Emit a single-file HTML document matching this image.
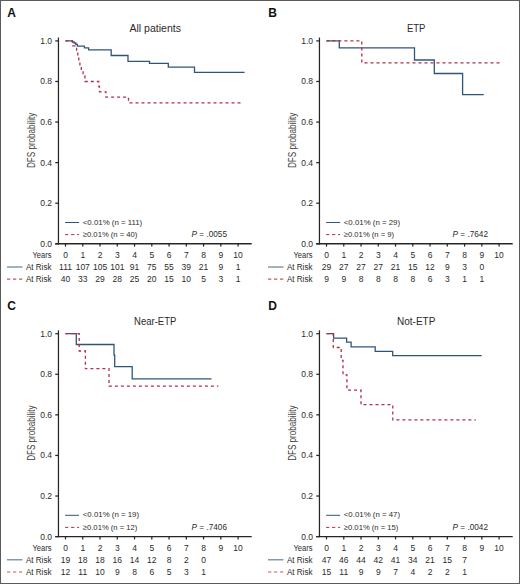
<!DOCTYPE html>
<html><head><meta charset="utf-8"><title>DFS</title>
<style>html,body{margin:0;padding:0;background:#fff;}svg{display:block;}</style>
</head><body>
<svg width="520" height="584" viewBox="0 0 520 584" font-family='"Liberation Sans", sans-serif'>
<rect x="0" y="0" width="520" height="584" fill="#fff"/>
<text x="7.20" y="16.80" font-size="12" text-anchor="start" font-weight="bold" font-style="normal" fill="#111" >A</text>
<text x="155.20" y="32.20" font-size="10.6" text-anchor="middle" font-weight="normal" font-style="normal" fill="#2b2b2b" textLength="51.6" lengthAdjust="spacingAndGlyphs">All patients</text>
<line x1="58.45" y1="37.5" x2="58.45" y2="244.425" stroke="#262626" stroke-width="1.25"/>
<line x1="55.25" y1="243.8" x2="251.7" y2="243.8" stroke="#262626" stroke-width="1.45"/>
<line x1="55.25" y1="243.80" x2="58.45" y2="243.80" stroke="#262626" stroke-width="1.25"/>
<text x="52.00" y="246.80" font-size="8.5" text-anchor="end" font-weight="normal" font-style="normal" fill="#2b2b2b" >0.0</text>
<line x1="55.25" y1="203.22" x2="58.45" y2="203.22" stroke="#262626" stroke-width="1.25"/>
<text x="52.00" y="206.22" font-size="8.5" text-anchor="end" font-weight="normal" font-style="normal" fill="#2b2b2b" >0.2</text>
<line x1="55.25" y1="162.64" x2="58.45" y2="162.64" stroke="#262626" stroke-width="1.25"/>
<text x="52.00" y="165.64" font-size="8.5" text-anchor="end" font-weight="normal" font-style="normal" fill="#2b2b2b" >0.4</text>
<line x1="55.25" y1="122.06" x2="58.45" y2="122.06" stroke="#262626" stroke-width="1.25"/>
<text x="52.00" y="125.06" font-size="8.5" text-anchor="end" font-weight="normal" font-style="normal" fill="#2b2b2b" >0.6</text>
<line x1="55.25" y1="81.48" x2="58.45" y2="81.48" stroke="#262626" stroke-width="1.25"/>
<text x="52.00" y="84.48" font-size="8.5" text-anchor="end" font-weight="normal" font-style="normal" fill="#2b2b2b" >0.8</text>
<line x1="55.25" y1="40.90" x2="58.45" y2="40.90" stroke="#262626" stroke-width="1.25"/>
<text x="52.00" y="43.90" font-size="8.5" text-anchor="end" font-weight="normal" font-style="normal" fill="#2b2b2b" >1.0</text>
<line x1="65.50" y1="243.8" x2="65.50" y2="246.60000000000002" stroke="#262626" stroke-width="1.25"/>
<text x="65.50" y="258.00" font-size="8.5" text-anchor="middle" font-weight="normal" font-style="normal" fill="#2b2b2b" >0</text>
<line x1="82.76" y1="243.8" x2="82.76" y2="246.60000000000002" stroke="#262626" stroke-width="1.25"/>
<text x="82.76" y="258.00" font-size="8.5" text-anchor="middle" font-weight="normal" font-style="normal" fill="#2b2b2b" >1</text>
<line x1="100.02" y1="243.8" x2="100.02" y2="246.60000000000002" stroke="#262626" stroke-width="1.25"/>
<text x="100.02" y="258.00" font-size="8.5" text-anchor="middle" font-weight="normal" font-style="normal" fill="#2b2b2b" >2</text>
<line x1="117.28" y1="243.8" x2="117.28" y2="246.60000000000002" stroke="#262626" stroke-width="1.25"/>
<text x="117.28" y="258.00" font-size="8.5" text-anchor="middle" font-weight="normal" font-style="normal" fill="#2b2b2b" >3</text>
<line x1="134.54" y1="243.8" x2="134.54" y2="246.60000000000002" stroke="#262626" stroke-width="1.25"/>
<text x="134.54" y="258.00" font-size="8.5" text-anchor="middle" font-weight="normal" font-style="normal" fill="#2b2b2b" >4</text>
<line x1="151.80" y1="243.8" x2="151.80" y2="246.60000000000002" stroke="#262626" stroke-width="1.25"/>
<text x="151.80" y="258.00" font-size="8.5" text-anchor="middle" font-weight="normal" font-style="normal" fill="#2b2b2b" >5</text>
<line x1="169.06" y1="243.8" x2="169.06" y2="246.60000000000002" stroke="#262626" stroke-width="1.25"/>
<text x="169.06" y="258.00" font-size="8.5" text-anchor="middle" font-weight="normal" font-style="normal" fill="#2b2b2b" >6</text>
<line x1="186.32" y1="243.8" x2="186.32" y2="246.60000000000002" stroke="#262626" stroke-width="1.25"/>
<text x="186.32" y="258.00" font-size="8.5" text-anchor="middle" font-weight="normal" font-style="normal" fill="#2b2b2b" >7</text>
<line x1="203.58" y1="243.8" x2="203.58" y2="246.60000000000002" stroke="#262626" stroke-width="1.25"/>
<text x="203.58" y="258.00" font-size="8.5" text-anchor="middle" font-weight="normal" font-style="normal" fill="#2b2b2b" >8</text>
<line x1="220.84" y1="243.8" x2="220.84" y2="246.60000000000002" stroke="#262626" stroke-width="1.25"/>
<text x="220.84" y="258.00" font-size="8.5" text-anchor="middle" font-weight="normal" font-style="normal" fill="#2b2b2b" >9</text>
<line x1="238.10" y1="243.8" x2="238.10" y2="246.60000000000002" stroke="#262626" stroke-width="1.25"/>
<text x="238.10" y="258.00" font-size="8.5" text-anchor="middle" font-weight="normal" font-style="normal" fill="#2b2b2b" >10</text>
<text x="51.50" y="258.00" font-size="8.5" text-anchor="end" font-weight="normal" font-style="normal" fill="#2b2b2b" textLength="19" lengthAdjust="spacingAndGlyphs">Years</text>
<text x="51.50" y="270.10" font-size="8.5" text-anchor="end" font-weight="normal" font-style="normal" fill="#2b2b2b" textLength="25.6" lengthAdjust="spacingAndGlyphs">At Risk</text>
<text x="51.50" y="282.20" font-size="8.5" text-anchor="end" font-weight="normal" font-style="normal" fill="#2b2b2b" textLength="25.6" lengthAdjust="spacingAndGlyphs">At Risk</text>
<line x1="7.0" y1="267.0" x2="22.5" y2="267.0" stroke="#30557a" stroke-width="1.2" opacity="0.75"/>
<line x1="7.0" y1="279.2" x2="22.6" y2="279.2" stroke="#b52d48" stroke-width="1.2" stroke-dasharray="3.3 2.7" opacity="0.8"/>
<text x="65.50" y="270.10" font-size="8.5" text-anchor="middle" font-weight="normal" font-style="normal" fill="#2b2b2b" >111</text>
<text x="82.76" y="270.10" font-size="8.5" text-anchor="middle" font-weight="normal" font-style="normal" fill="#2b2b2b" >107</text>
<text x="100.02" y="270.10" font-size="8.5" text-anchor="middle" font-weight="normal" font-style="normal" fill="#2b2b2b" >105</text>
<text x="117.28" y="270.10" font-size="8.5" text-anchor="middle" font-weight="normal" font-style="normal" fill="#2b2b2b" >101</text>
<text x="134.54" y="270.10" font-size="8.5" text-anchor="middle" font-weight="normal" font-style="normal" fill="#2b2b2b" >91</text>
<text x="151.80" y="270.10" font-size="8.5" text-anchor="middle" font-weight="normal" font-style="normal" fill="#2b2b2b" >75</text>
<text x="169.06" y="270.10" font-size="8.5" text-anchor="middle" font-weight="normal" font-style="normal" fill="#2b2b2b" >55</text>
<text x="186.32" y="270.10" font-size="8.5" text-anchor="middle" font-weight="normal" font-style="normal" fill="#2b2b2b" >39</text>
<text x="203.58" y="270.10" font-size="8.5" text-anchor="middle" font-weight="normal" font-style="normal" fill="#2b2b2b" >21</text>
<text x="220.84" y="270.10" font-size="8.5" text-anchor="middle" font-weight="normal" font-style="normal" fill="#2b2b2b" >9</text>
<text x="238.10" y="270.10" font-size="8.5" text-anchor="middle" font-weight="normal" font-style="normal" fill="#2b2b2b" >1</text>
<text x="65.50" y="282.20" font-size="8.5" text-anchor="middle" font-weight="normal" font-style="normal" fill="#2b2b2b" >40</text>
<text x="82.76" y="282.20" font-size="8.5" text-anchor="middle" font-weight="normal" font-style="normal" fill="#2b2b2b" >33</text>
<text x="100.02" y="282.20" font-size="8.5" text-anchor="middle" font-weight="normal" font-style="normal" fill="#2b2b2b" >29</text>
<text x="117.28" y="282.20" font-size="8.5" text-anchor="middle" font-weight="normal" font-style="normal" fill="#2b2b2b" >28</text>
<text x="134.54" y="282.20" font-size="8.5" text-anchor="middle" font-weight="normal" font-style="normal" fill="#2b2b2b" >25</text>
<text x="151.80" y="282.20" font-size="8.5" text-anchor="middle" font-weight="normal" font-style="normal" fill="#2b2b2b" >20</text>
<text x="169.06" y="282.20" font-size="8.5" text-anchor="middle" font-weight="normal" font-style="normal" fill="#2b2b2b" >15</text>
<text x="186.32" y="282.20" font-size="8.5" text-anchor="middle" font-weight="normal" font-style="normal" fill="#2b2b2b" >10</text>
<text x="203.58" y="282.20" font-size="8.5" text-anchor="middle" font-weight="normal" font-style="normal" fill="#2b2b2b" >5</text>
<text x="220.84" y="282.20" font-size="8.5" text-anchor="middle" font-weight="normal" font-style="normal" fill="#2b2b2b" >3</text>
<text x="238.10" y="282.20" font-size="8.5" text-anchor="middle" font-weight="normal" font-style="normal" fill="#2b2b2b" >1</text>
<line x1="65.1" y1="222.5" x2="79.1" y2="222.5" stroke="#30557a" stroke-width="1.0"/>
<line x1="65.1" y1="234.6" x2="79.1" y2="234.6" stroke="#b52d48" stroke-width="1.0" stroke-dasharray="3.2 2.8"/>
<text x="82.80" y="224.50" font-size="8" text-anchor="start" font-weight="normal" font-style="normal" fill="#2b2b2b" textLength="59.42" lengthAdjust="spacingAndGlyphs">&lt;0.01% (n = 111)</text>
<text x="82.80" y="236.90" font-size="8" text-anchor="start" font-weight="normal" font-style="normal" fill="#2b2b2b" textLength="54.58" lengthAdjust="spacingAndGlyphs">≥0.01% (n = 40)</text>
<text x="191.60" y="237.10" font-size="8.6" fill="#2b2b2b" textLength="35.4" lengthAdjust="spacingAndGlyphs"><tspan font-style="italic">P</tspan> = .0055</text>
<text x="0" y="0" font-size="11" text-anchor="middle" fill="#444" textLength="55.3" lengthAdjust="spacingAndGlyphs" transform="translate(34.90,140.40) rotate(-90)">DFS probability</text>
<path d="M65.40,40.90H72.20V41.90H74.10V43.00H75.80V44.40H77.40V46.20H84.40V47.90H88.60V49.90H111.20V55.50H128.00V61.40H149.50V63.30H168.30V67.10H194.50V72.40H244.60" fill="none" stroke="#30557a" stroke-width="1.3"/>
<path d="M65.40,40.90H72.60V45.80H76.60V50.80H77.80V55.80H78.80V60.80H79.90V65.80H81.30V70.80H83.10V75.80H84.90V81.50H98.80V86.50H99.50V91.80H106.00V97.20H128.50V102.80H240.50" fill="none" stroke="#b52d48" stroke-width="1.3" stroke-dasharray="3 3"/>
<text x="268.20" y="16.80" font-size="12" text-anchor="start" font-weight="bold" font-style="normal" fill="#111" >B</text>
<text x="416.20" y="32.20" font-size="10.6" text-anchor="middle" font-weight="normal" font-style="normal" fill="#2b2b2b" textLength="18.6" lengthAdjust="spacingAndGlyphs">ETP</text>
<line x1="319.45" y1="37.5" x2="319.45" y2="244.425" stroke="#262626" stroke-width="1.25"/>
<line x1="316.25" y1="243.8" x2="512.7" y2="243.8" stroke="#262626" stroke-width="1.45"/>
<line x1="316.25" y1="243.80" x2="319.45" y2="243.80" stroke="#262626" stroke-width="1.25"/>
<text x="313.00" y="246.80" font-size="8.5" text-anchor="end" font-weight="normal" font-style="normal" fill="#2b2b2b" >0.0</text>
<line x1="316.25" y1="203.22" x2="319.45" y2="203.22" stroke="#262626" stroke-width="1.25"/>
<text x="313.00" y="206.22" font-size="8.5" text-anchor="end" font-weight="normal" font-style="normal" fill="#2b2b2b" >0.2</text>
<line x1="316.25" y1="162.64" x2="319.45" y2="162.64" stroke="#262626" stroke-width="1.25"/>
<text x="313.00" y="165.64" font-size="8.5" text-anchor="end" font-weight="normal" font-style="normal" fill="#2b2b2b" >0.4</text>
<line x1="316.25" y1="122.06" x2="319.45" y2="122.06" stroke="#262626" stroke-width="1.25"/>
<text x="313.00" y="125.06" font-size="8.5" text-anchor="end" font-weight="normal" font-style="normal" fill="#2b2b2b" >0.6</text>
<line x1="316.25" y1="81.48" x2="319.45" y2="81.48" stroke="#262626" stroke-width="1.25"/>
<text x="313.00" y="84.48" font-size="8.5" text-anchor="end" font-weight="normal" font-style="normal" fill="#2b2b2b" >0.8</text>
<line x1="316.25" y1="40.90" x2="319.45" y2="40.90" stroke="#262626" stroke-width="1.25"/>
<text x="313.00" y="43.90" font-size="8.5" text-anchor="end" font-weight="normal" font-style="normal" fill="#2b2b2b" >1.0</text>
<line x1="326.50" y1="243.8" x2="326.50" y2="246.60000000000002" stroke="#262626" stroke-width="1.25"/>
<text x="326.50" y="258.00" font-size="8.5" text-anchor="middle" font-weight="normal" font-style="normal" fill="#2b2b2b" >0</text>
<line x1="343.76" y1="243.8" x2="343.76" y2="246.60000000000002" stroke="#262626" stroke-width="1.25"/>
<text x="343.76" y="258.00" font-size="8.5" text-anchor="middle" font-weight="normal" font-style="normal" fill="#2b2b2b" >1</text>
<line x1="361.02" y1="243.8" x2="361.02" y2="246.60000000000002" stroke="#262626" stroke-width="1.25"/>
<text x="361.02" y="258.00" font-size="8.5" text-anchor="middle" font-weight="normal" font-style="normal" fill="#2b2b2b" >2</text>
<line x1="378.28" y1="243.8" x2="378.28" y2="246.60000000000002" stroke="#262626" stroke-width="1.25"/>
<text x="378.28" y="258.00" font-size="8.5" text-anchor="middle" font-weight="normal" font-style="normal" fill="#2b2b2b" >3</text>
<line x1="395.54" y1="243.8" x2="395.54" y2="246.60000000000002" stroke="#262626" stroke-width="1.25"/>
<text x="395.54" y="258.00" font-size="8.5" text-anchor="middle" font-weight="normal" font-style="normal" fill="#2b2b2b" >4</text>
<line x1="412.80" y1="243.8" x2="412.80" y2="246.60000000000002" stroke="#262626" stroke-width="1.25"/>
<text x="412.80" y="258.00" font-size="8.5" text-anchor="middle" font-weight="normal" font-style="normal" fill="#2b2b2b" >5</text>
<line x1="430.06" y1="243.8" x2="430.06" y2="246.60000000000002" stroke="#262626" stroke-width="1.25"/>
<text x="430.06" y="258.00" font-size="8.5" text-anchor="middle" font-weight="normal" font-style="normal" fill="#2b2b2b" >6</text>
<line x1="447.32" y1="243.8" x2="447.32" y2="246.60000000000002" stroke="#262626" stroke-width="1.25"/>
<text x="447.32" y="258.00" font-size="8.5" text-anchor="middle" font-weight="normal" font-style="normal" fill="#2b2b2b" >7</text>
<line x1="464.58" y1="243.8" x2="464.58" y2="246.60000000000002" stroke="#262626" stroke-width="1.25"/>
<text x="464.58" y="258.00" font-size="8.5" text-anchor="middle" font-weight="normal" font-style="normal" fill="#2b2b2b" >8</text>
<line x1="481.84" y1="243.8" x2="481.84" y2="246.60000000000002" stroke="#262626" stroke-width="1.25"/>
<text x="481.84" y="258.00" font-size="8.5" text-anchor="middle" font-weight="normal" font-style="normal" fill="#2b2b2b" >9</text>
<line x1="499.10" y1="243.8" x2="499.10" y2="246.60000000000002" stroke="#262626" stroke-width="1.25"/>
<text x="499.10" y="258.00" font-size="8.5" text-anchor="middle" font-weight="normal" font-style="normal" fill="#2b2b2b" >10</text>
<text x="312.50" y="258.00" font-size="8.5" text-anchor="end" font-weight="normal" font-style="normal" fill="#2b2b2b" textLength="19" lengthAdjust="spacingAndGlyphs">Years</text>
<text x="312.50" y="270.10" font-size="8.5" text-anchor="end" font-weight="normal" font-style="normal" fill="#2b2b2b" textLength="25.6" lengthAdjust="spacingAndGlyphs">At Risk</text>
<text x="312.50" y="282.20" font-size="8.5" text-anchor="end" font-weight="normal" font-style="normal" fill="#2b2b2b" textLength="25.6" lengthAdjust="spacingAndGlyphs">At Risk</text>
<line x1="268.0" y1="267.0" x2="283.5" y2="267.0" stroke="#30557a" stroke-width="1.2" opacity="0.75"/>
<line x1="268.0" y1="279.2" x2="283.6" y2="279.2" stroke="#b52d48" stroke-width="1.2" stroke-dasharray="3.3 2.7" opacity="0.8"/>
<text x="326.50" y="270.10" font-size="8.5" text-anchor="middle" font-weight="normal" font-style="normal" fill="#2b2b2b" >29</text>
<text x="343.76" y="270.10" font-size="8.5" text-anchor="middle" font-weight="normal" font-style="normal" fill="#2b2b2b" >27</text>
<text x="361.02" y="270.10" font-size="8.5" text-anchor="middle" font-weight="normal" font-style="normal" fill="#2b2b2b" >27</text>
<text x="378.28" y="270.10" font-size="8.5" text-anchor="middle" font-weight="normal" font-style="normal" fill="#2b2b2b" >27</text>
<text x="395.54" y="270.10" font-size="8.5" text-anchor="middle" font-weight="normal" font-style="normal" fill="#2b2b2b" >21</text>
<text x="412.80" y="270.10" font-size="8.5" text-anchor="middle" font-weight="normal" font-style="normal" fill="#2b2b2b" >15</text>
<text x="430.06" y="270.10" font-size="8.5" text-anchor="middle" font-weight="normal" font-style="normal" fill="#2b2b2b" >12</text>
<text x="447.32" y="270.10" font-size="8.5" text-anchor="middle" font-weight="normal" font-style="normal" fill="#2b2b2b" >9</text>
<text x="464.58" y="270.10" font-size="8.5" text-anchor="middle" font-weight="normal" font-style="normal" fill="#2b2b2b" >3</text>
<text x="481.84" y="270.10" font-size="8.5" text-anchor="middle" font-weight="normal" font-style="normal" fill="#2b2b2b" >0</text>
<text x="326.50" y="282.20" font-size="8.5" text-anchor="middle" font-weight="normal" font-style="normal" fill="#2b2b2b" >9</text>
<text x="343.76" y="282.20" font-size="8.5" text-anchor="middle" font-weight="normal" font-style="normal" fill="#2b2b2b" >9</text>
<text x="361.02" y="282.20" font-size="8.5" text-anchor="middle" font-weight="normal" font-style="normal" fill="#2b2b2b" >8</text>
<text x="378.28" y="282.20" font-size="8.5" text-anchor="middle" font-weight="normal" font-style="normal" fill="#2b2b2b" >8</text>
<text x="395.54" y="282.20" font-size="8.5" text-anchor="middle" font-weight="normal" font-style="normal" fill="#2b2b2b" >8</text>
<text x="412.80" y="282.20" font-size="8.5" text-anchor="middle" font-weight="normal" font-style="normal" fill="#2b2b2b" >8</text>
<text x="430.06" y="282.20" font-size="8.5" text-anchor="middle" font-weight="normal" font-style="normal" fill="#2b2b2b" >6</text>
<text x="447.32" y="282.20" font-size="8.5" text-anchor="middle" font-weight="normal" font-style="normal" fill="#2b2b2b" >3</text>
<text x="464.58" y="282.20" font-size="8.5" text-anchor="middle" font-weight="normal" font-style="normal" fill="#2b2b2b" >1</text>
<text x="481.84" y="282.20" font-size="8.5" text-anchor="middle" font-weight="normal" font-style="normal" fill="#2b2b2b" >1</text>
<line x1="326.1" y1="222.5" x2="340.1" y2="222.5" stroke="#30557a" stroke-width="1.0"/>
<line x1="326.1" y1="234.6" x2="340.1" y2="234.6" stroke="#b52d48" stroke-width="1.0" stroke-dasharray="3.2 2.8"/>
<text x="343.80" y="224.50" font-size="8" text-anchor="start" font-weight="normal" font-style="normal" fill="#2b2b2b" textLength="56.22" lengthAdjust="spacingAndGlyphs">&lt;0.01% (n = 29)</text>
<text x="343.80" y="236.90" font-size="8" text-anchor="start" font-weight="normal" font-style="normal" fill="#2b2b2b" textLength="50.32" lengthAdjust="spacingAndGlyphs">≥0.01% (n = 9)</text>
<text x="452.60" y="237.10" font-size="8.6" fill="#2b2b2b" textLength="35.4" lengthAdjust="spacingAndGlyphs"><tspan font-style="italic">P</tspan> = .7642</text>
<text x="0" y="0" font-size="11" text-anchor="middle" fill="#444" textLength="55.3" lengthAdjust="spacingAndGlyphs" transform="translate(295.90,140.40) rotate(-90)">DFS probability</text>
<path d="M326.40,40.90H339.30V47.80H414.50V60.00H434.30V73.50H462.60V94.70H483.70" fill="none" stroke="#30557a" stroke-width="1.3"/>
<path d="M326.40,40.90H361.80V62.80H501.80" fill="none" stroke="#b52d48" stroke-width="1.3" stroke-dasharray="3 3"/>
<text x="7.20" y="309.60" font-size="12" text-anchor="start" font-weight="bold" font-style="normal" fill="#111" >C</text>
<text x="155.20" y="325.00" font-size="10.6" text-anchor="middle" font-weight="normal" font-style="normal" fill="#2b2b2b" textLength="42.2" lengthAdjust="spacingAndGlyphs">Near-ETP</text>
<line x1="58.45" y1="330.3" x2="58.45" y2="537.225" stroke="#262626" stroke-width="1.25"/>
<line x1="55.25" y1="536.6" x2="251.7" y2="536.6" stroke="#262626" stroke-width="1.45"/>
<line x1="55.25" y1="536.60" x2="58.45" y2="536.60" stroke="#262626" stroke-width="1.25"/>
<text x="52.00" y="539.60" font-size="8.5" text-anchor="end" font-weight="normal" font-style="normal" fill="#2b2b2b" >0.0</text>
<line x1="55.25" y1="496.02" x2="58.45" y2="496.02" stroke="#262626" stroke-width="1.25"/>
<text x="52.00" y="499.02" font-size="8.5" text-anchor="end" font-weight="normal" font-style="normal" fill="#2b2b2b" >0.2</text>
<line x1="55.25" y1="455.44" x2="58.45" y2="455.44" stroke="#262626" stroke-width="1.25"/>
<text x="52.00" y="458.44" font-size="8.5" text-anchor="end" font-weight="normal" font-style="normal" fill="#2b2b2b" >0.4</text>
<line x1="55.25" y1="414.86" x2="58.45" y2="414.86" stroke="#262626" stroke-width="1.25"/>
<text x="52.00" y="417.86" font-size="8.5" text-anchor="end" font-weight="normal" font-style="normal" fill="#2b2b2b" >0.6</text>
<line x1="55.25" y1="374.28" x2="58.45" y2="374.28" stroke="#262626" stroke-width="1.25"/>
<text x="52.00" y="377.28" font-size="8.5" text-anchor="end" font-weight="normal" font-style="normal" fill="#2b2b2b" >0.8</text>
<line x1="55.25" y1="333.70" x2="58.45" y2="333.70" stroke="#262626" stroke-width="1.25"/>
<text x="52.00" y="336.70" font-size="8.5" text-anchor="end" font-weight="normal" font-style="normal" fill="#2b2b2b" >1.0</text>
<line x1="65.50" y1="536.6" x2="65.50" y2="539.4000000000001" stroke="#262626" stroke-width="1.25"/>
<text x="65.50" y="550.80" font-size="8.5" text-anchor="middle" font-weight="normal" font-style="normal" fill="#2b2b2b" >0</text>
<line x1="82.76" y1="536.6" x2="82.76" y2="539.4000000000001" stroke="#262626" stroke-width="1.25"/>
<text x="82.76" y="550.80" font-size="8.5" text-anchor="middle" font-weight="normal" font-style="normal" fill="#2b2b2b" >1</text>
<line x1="100.02" y1="536.6" x2="100.02" y2="539.4000000000001" stroke="#262626" stroke-width="1.25"/>
<text x="100.02" y="550.80" font-size="8.5" text-anchor="middle" font-weight="normal" font-style="normal" fill="#2b2b2b" >2</text>
<line x1="117.28" y1="536.6" x2="117.28" y2="539.4000000000001" stroke="#262626" stroke-width="1.25"/>
<text x="117.28" y="550.80" font-size="8.5" text-anchor="middle" font-weight="normal" font-style="normal" fill="#2b2b2b" >3</text>
<line x1="134.54" y1="536.6" x2="134.54" y2="539.4000000000001" stroke="#262626" stroke-width="1.25"/>
<text x="134.54" y="550.80" font-size="8.5" text-anchor="middle" font-weight="normal" font-style="normal" fill="#2b2b2b" >4</text>
<line x1="151.80" y1="536.6" x2="151.80" y2="539.4000000000001" stroke="#262626" stroke-width="1.25"/>
<text x="151.80" y="550.80" font-size="8.5" text-anchor="middle" font-weight="normal" font-style="normal" fill="#2b2b2b" >5</text>
<line x1="169.06" y1="536.6" x2="169.06" y2="539.4000000000001" stroke="#262626" stroke-width="1.25"/>
<text x="169.06" y="550.80" font-size="8.5" text-anchor="middle" font-weight="normal" font-style="normal" fill="#2b2b2b" >6</text>
<line x1="186.32" y1="536.6" x2="186.32" y2="539.4000000000001" stroke="#262626" stroke-width="1.25"/>
<text x="186.32" y="550.80" font-size="8.5" text-anchor="middle" font-weight="normal" font-style="normal" fill="#2b2b2b" >7</text>
<line x1="203.58" y1="536.6" x2="203.58" y2="539.4000000000001" stroke="#262626" stroke-width="1.25"/>
<text x="203.58" y="550.80" font-size="8.5" text-anchor="middle" font-weight="normal" font-style="normal" fill="#2b2b2b" >8</text>
<line x1="220.84" y1="536.6" x2="220.84" y2="539.4000000000001" stroke="#262626" stroke-width="1.25"/>
<text x="220.84" y="550.80" font-size="8.5" text-anchor="middle" font-weight="normal" font-style="normal" fill="#2b2b2b" >9</text>
<line x1="238.10" y1="536.6" x2="238.10" y2="539.4000000000001" stroke="#262626" stroke-width="1.25"/>
<text x="238.10" y="550.80" font-size="8.5" text-anchor="middle" font-weight="normal" font-style="normal" fill="#2b2b2b" >10</text>
<text x="51.50" y="550.80" font-size="8.5" text-anchor="end" font-weight="normal" font-style="normal" fill="#2b2b2b" textLength="19" lengthAdjust="spacingAndGlyphs">Years</text>
<text x="51.50" y="562.90" font-size="8.5" text-anchor="end" font-weight="normal" font-style="normal" fill="#2b2b2b" textLength="25.6" lengthAdjust="spacingAndGlyphs">At Risk</text>
<text x="51.50" y="575.00" font-size="8.5" text-anchor="end" font-weight="normal" font-style="normal" fill="#2b2b2b" textLength="25.6" lengthAdjust="spacingAndGlyphs">At Risk</text>
<line x1="7.0" y1="559.8" x2="22.5" y2="559.8" stroke="#30557a" stroke-width="1.2" opacity="0.75"/>
<line x1="7.0" y1="572.0" x2="22.6" y2="572.0" stroke="#b52d48" stroke-width="1.2" stroke-dasharray="3.3 2.7" opacity="0.8"/>
<text x="65.50" y="562.90" font-size="8.5" text-anchor="middle" font-weight="normal" font-style="normal" fill="#2b2b2b" >19</text>
<text x="82.76" y="562.90" font-size="8.5" text-anchor="middle" font-weight="normal" font-style="normal" fill="#2b2b2b" >18</text>
<text x="100.02" y="562.90" font-size="8.5" text-anchor="middle" font-weight="normal" font-style="normal" fill="#2b2b2b" >18</text>
<text x="117.28" y="562.90" font-size="8.5" text-anchor="middle" font-weight="normal" font-style="normal" fill="#2b2b2b" >16</text>
<text x="134.54" y="562.90" font-size="8.5" text-anchor="middle" font-weight="normal" font-style="normal" fill="#2b2b2b" >14</text>
<text x="151.80" y="562.90" font-size="8.5" text-anchor="middle" font-weight="normal" font-style="normal" fill="#2b2b2b" >12</text>
<text x="169.06" y="562.90" font-size="8.5" text-anchor="middle" font-weight="normal" font-style="normal" fill="#2b2b2b" >8</text>
<text x="186.32" y="562.90" font-size="8.5" text-anchor="middle" font-weight="normal" font-style="normal" fill="#2b2b2b" >2</text>
<text x="203.58" y="562.90" font-size="8.5" text-anchor="middle" font-weight="normal" font-style="normal" fill="#2b2b2b" >0</text>
<text x="65.50" y="575.00" font-size="8.5" text-anchor="middle" font-weight="normal" font-style="normal" fill="#2b2b2b" >12</text>
<text x="82.76" y="575.00" font-size="8.5" text-anchor="middle" font-weight="normal" font-style="normal" fill="#2b2b2b" >11</text>
<text x="100.02" y="575.00" font-size="8.5" text-anchor="middle" font-weight="normal" font-style="normal" fill="#2b2b2b" >10</text>
<text x="117.28" y="575.00" font-size="8.5" text-anchor="middle" font-weight="normal" font-style="normal" fill="#2b2b2b" >9</text>
<text x="134.54" y="575.00" font-size="8.5" text-anchor="middle" font-weight="normal" font-style="normal" fill="#2b2b2b" >8</text>
<text x="151.80" y="575.00" font-size="8.5" text-anchor="middle" font-weight="normal" font-style="normal" fill="#2b2b2b" >6</text>
<text x="169.06" y="575.00" font-size="8.5" text-anchor="middle" font-weight="normal" font-style="normal" fill="#2b2b2b" >5</text>
<text x="186.32" y="575.00" font-size="8.5" text-anchor="middle" font-weight="normal" font-style="normal" fill="#2b2b2b" >3</text>
<text x="203.58" y="575.00" font-size="8.5" text-anchor="middle" font-weight="normal" font-style="normal" fill="#2b2b2b" >1</text>
<line x1="65.1" y1="515.3" x2="79.1" y2="515.3" stroke="#30557a" stroke-width="1.0"/>
<line x1="65.1" y1="527.4" x2="79.1" y2="527.4" stroke="#b52d48" stroke-width="1.0" stroke-dasharray="3.2 2.8"/>
<text x="82.80" y="517.30" font-size="8" text-anchor="start" font-weight="normal" font-style="normal" fill="#2b2b2b" textLength="56.22" lengthAdjust="spacingAndGlyphs">&lt;0.01% (n = 19)</text>
<text x="82.80" y="529.70" font-size="8" text-anchor="start" font-weight="normal" font-style="normal" fill="#2b2b2b" textLength="54.58" lengthAdjust="spacingAndGlyphs">≥0.01% (n = 12)</text>
<text x="191.60" y="529.90" font-size="8.6" fill="#2b2b2b" textLength="35.4" lengthAdjust="spacingAndGlyphs"><tspan font-style="italic">P</tspan> = .7406</text>
<text x="0" y="0" font-size="11" text-anchor="middle" fill="#444" textLength="55.3" lengthAdjust="spacingAndGlyphs" transform="translate(34.90,433.20) rotate(-90)">DFS probability</text>
<path d="M65.40,333.70H76.30V344.50H114.00V355.20H114.70V366.60H132.20V378.80H211.50" fill="none" stroke="#30557a" stroke-width="1.3"/>
<path d="M65.40,333.70H79.20V351.00H85.40V368.70H109.00V386.20H218.30" fill="none" stroke="#b52d48" stroke-width="1.3" stroke-dasharray="3 3"/>
<text x="268.20" y="309.60" font-size="12" text-anchor="start" font-weight="bold" font-style="normal" fill="#111" >D</text>
<text x="416.20" y="325.00" font-size="10.6" text-anchor="middle" font-weight="normal" font-style="normal" fill="#2b2b2b" textLength="38.4" lengthAdjust="spacingAndGlyphs">Not-ETP</text>
<line x1="319.45" y1="330.3" x2="319.45" y2="537.225" stroke="#262626" stroke-width="1.25"/>
<line x1="316.25" y1="536.6" x2="512.7" y2="536.6" stroke="#262626" stroke-width="1.45"/>
<line x1="316.25" y1="536.60" x2="319.45" y2="536.60" stroke="#262626" stroke-width="1.25"/>
<text x="313.00" y="539.60" font-size="8.5" text-anchor="end" font-weight="normal" font-style="normal" fill="#2b2b2b" >0.0</text>
<line x1="316.25" y1="496.02" x2="319.45" y2="496.02" stroke="#262626" stroke-width="1.25"/>
<text x="313.00" y="499.02" font-size="8.5" text-anchor="end" font-weight="normal" font-style="normal" fill="#2b2b2b" >0.2</text>
<line x1="316.25" y1="455.44" x2="319.45" y2="455.44" stroke="#262626" stroke-width="1.25"/>
<text x="313.00" y="458.44" font-size="8.5" text-anchor="end" font-weight="normal" font-style="normal" fill="#2b2b2b" >0.4</text>
<line x1="316.25" y1="414.86" x2="319.45" y2="414.86" stroke="#262626" stroke-width="1.25"/>
<text x="313.00" y="417.86" font-size="8.5" text-anchor="end" font-weight="normal" font-style="normal" fill="#2b2b2b" >0.6</text>
<line x1="316.25" y1="374.28" x2="319.45" y2="374.28" stroke="#262626" stroke-width="1.25"/>
<text x="313.00" y="377.28" font-size="8.5" text-anchor="end" font-weight="normal" font-style="normal" fill="#2b2b2b" >0.8</text>
<line x1="316.25" y1="333.70" x2="319.45" y2="333.70" stroke="#262626" stroke-width="1.25"/>
<text x="313.00" y="336.70" font-size="8.5" text-anchor="end" font-weight="normal" font-style="normal" fill="#2b2b2b" >1.0</text>
<line x1="326.50" y1="536.6" x2="326.50" y2="539.4000000000001" stroke="#262626" stroke-width="1.25"/>
<text x="326.50" y="550.80" font-size="8.5" text-anchor="middle" font-weight="normal" font-style="normal" fill="#2b2b2b" >0</text>
<line x1="343.76" y1="536.6" x2="343.76" y2="539.4000000000001" stroke="#262626" stroke-width="1.25"/>
<text x="343.76" y="550.80" font-size="8.5" text-anchor="middle" font-weight="normal" font-style="normal" fill="#2b2b2b" >1</text>
<line x1="361.02" y1="536.6" x2="361.02" y2="539.4000000000001" stroke="#262626" stroke-width="1.25"/>
<text x="361.02" y="550.80" font-size="8.5" text-anchor="middle" font-weight="normal" font-style="normal" fill="#2b2b2b" >2</text>
<line x1="378.28" y1="536.6" x2="378.28" y2="539.4000000000001" stroke="#262626" stroke-width="1.25"/>
<text x="378.28" y="550.80" font-size="8.5" text-anchor="middle" font-weight="normal" font-style="normal" fill="#2b2b2b" >3</text>
<line x1="395.54" y1="536.6" x2="395.54" y2="539.4000000000001" stroke="#262626" stroke-width="1.25"/>
<text x="395.54" y="550.80" font-size="8.5" text-anchor="middle" font-weight="normal" font-style="normal" fill="#2b2b2b" >4</text>
<line x1="412.80" y1="536.6" x2="412.80" y2="539.4000000000001" stroke="#262626" stroke-width="1.25"/>
<text x="412.80" y="550.80" font-size="8.5" text-anchor="middle" font-weight="normal" font-style="normal" fill="#2b2b2b" >5</text>
<line x1="430.06" y1="536.6" x2="430.06" y2="539.4000000000001" stroke="#262626" stroke-width="1.25"/>
<text x="430.06" y="550.80" font-size="8.5" text-anchor="middle" font-weight="normal" font-style="normal" fill="#2b2b2b" >6</text>
<line x1="447.32" y1="536.6" x2="447.32" y2="539.4000000000001" stroke="#262626" stroke-width="1.25"/>
<text x="447.32" y="550.80" font-size="8.5" text-anchor="middle" font-weight="normal" font-style="normal" fill="#2b2b2b" >7</text>
<line x1="464.58" y1="536.6" x2="464.58" y2="539.4000000000001" stroke="#262626" stroke-width="1.25"/>
<text x="464.58" y="550.80" font-size="8.5" text-anchor="middle" font-weight="normal" font-style="normal" fill="#2b2b2b" >8</text>
<line x1="481.84" y1="536.6" x2="481.84" y2="539.4000000000001" stroke="#262626" stroke-width="1.25"/>
<text x="481.84" y="550.80" font-size="8.5" text-anchor="middle" font-weight="normal" font-style="normal" fill="#2b2b2b" >9</text>
<line x1="499.10" y1="536.6" x2="499.10" y2="539.4000000000001" stroke="#262626" stroke-width="1.25"/>
<text x="499.10" y="550.80" font-size="8.5" text-anchor="middle" font-weight="normal" font-style="normal" fill="#2b2b2b" >10</text>
<text x="312.50" y="550.80" font-size="8.5" text-anchor="end" font-weight="normal" font-style="normal" fill="#2b2b2b" textLength="19" lengthAdjust="spacingAndGlyphs">Years</text>
<text x="312.50" y="562.90" font-size="8.5" text-anchor="end" font-weight="normal" font-style="normal" fill="#2b2b2b" textLength="25.6" lengthAdjust="spacingAndGlyphs">At Risk</text>
<text x="312.50" y="575.00" font-size="8.5" text-anchor="end" font-weight="normal" font-style="normal" fill="#2b2b2b" textLength="25.6" lengthAdjust="spacingAndGlyphs">At Risk</text>
<line x1="268.0" y1="559.8" x2="283.5" y2="559.8" stroke="#30557a" stroke-width="1.2" opacity="0.75"/>
<line x1="268.0" y1="572.0" x2="283.6" y2="572.0" stroke="#b52d48" stroke-width="1.2" stroke-dasharray="3.3 2.7" opacity="0.8"/>
<text x="326.50" y="562.90" font-size="8.5" text-anchor="middle" font-weight="normal" font-style="normal" fill="#2b2b2b" >47</text>
<text x="343.76" y="562.90" font-size="8.5" text-anchor="middle" font-weight="normal" font-style="normal" fill="#2b2b2b" >46</text>
<text x="361.02" y="562.90" font-size="8.5" text-anchor="middle" font-weight="normal" font-style="normal" fill="#2b2b2b" >44</text>
<text x="378.28" y="562.90" font-size="8.5" text-anchor="middle" font-weight="normal" font-style="normal" fill="#2b2b2b" >42</text>
<text x="395.54" y="562.90" font-size="8.5" text-anchor="middle" font-weight="normal" font-style="normal" fill="#2b2b2b" >41</text>
<text x="412.80" y="562.90" font-size="8.5" text-anchor="middle" font-weight="normal" font-style="normal" fill="#2b2b2b" >34</text>
<text x="430.06" y="562.90" font-size="8.5" text-anchor="middle" font-weight="normal" font-style="normal" fill="#2b2b2b" >21</text>
<text x="447.32" y="562.90" font-size="8.5" text-anchor="middle" font-weight="normal" font-style="normal" fill="#2b2b2b" >15</text>
<text x="464.58" y="562.90" font-size="8.5" text-anchor="middle" font-weight="normal" font-style="normal" fill="#2b2b2b" >7</text>
<text x="326.50" y="575.00" font-size="8.5" text-anchor="middle" font-weight="normal" font-style="normal" fill="#2b2b2b" >15</text>
<text x="343.76" y="575.00" font-size="8.5" text-anchor="middle" font-weight="normal" font-style="normal" fill="#2b2b2b" >11</text>
<text x="361.02" y="575.00" font-size="8.5" text-anchor="middle" font-weight="normal" font-style="normal" fill="#2b2b2b" >9</text>
<text x="378.28" y="575.00" font-size="8.5" text-anchor="middle" font-weight="normal" font-style="normal" fill="#2b2b2b" >9</text>
<text x="395.54" y="575.00" font-size="8.5" text-anchor="middle" font-weight="normal" font-style="normal" fill="#2b2b2b" >7</text>
<text x="412.80" y="575.00" font-size="8.5" text-anchor="middle" font-weight="normal" font-style="normal" fill="#2b2b2b" >4</text>
<text x="430.06" y="575.00" font-size="8.5" text-anchor="middle" font-weight="normal" font-style="normal" fill="#2b2b2b" >2</text>
<text x="447.32" y="575.00" font-size="8.5" text-anchor="middle" font-weight="normal" font-style="normal" fill="#2b2b2b" >2</text>
<text x="464.58" y="575.00" font-size="8.5" text-anchor="middle" font-weight="normal" font-style="normal" fill="#2b2b2b" >1</text>
<line x1="326.1" y1="515.3" x2="340.1" y2="515.3" stroke="#30557a" stroke-width="1.0"/>
<line x1="326.1" y1="527.4" x2="340.1" y2="527.4" stroke="#b52d48" stroke-width="1.0" stroke-dasharray="3.2 2.8"/>
<text x="343.80" y="517.30" font-size="8" text-anchor="start" font-weight="normal" font-style="normal" fill="#2b2b2b" textLength="56.22" lengthAdjust="spacingAndGlyphs">&lt;0.01% (n = 47)</text>
<text x="343.80" y="529.70" font-size="8" text-anchor="start" font-weight="normal" font-style="normal" fill="#2b2b2b" textLength="54.58" lengthAdjust="spacingAndGlyphs">≥0.01% (n = 15)</text>
<text x="452.60" y="529.90" font-size="8.6" fill="#2b2b2b" textLength="35.4" lengthAdjust="spacingAndGlyphs"><tspan font-style="italic">P</tspan> = .0042</text>
<text x="0" y="0" font-size="11" text-anchor="middle" fill="#444" textLength="55.3" lengthAdjust="spacingAndGlyphs" transform="translate(295.90,433.20) rotate(-90)">DFS probability</text>
<path d="M326.50,333.70H333.60V338.10H346.60V342.20H351.10V346.80H375.20V351.40H392.70V355.60H481.70" fill="none" stroke="#30557a" stroke-width="1.3"/>
<path d="M326.50,333.70H333.30V347.50H341.20V360.30H343.00V374.80H346.90V390.20H361.00V404.70H392.80V419.80H475.80" fill="none" stroke="#b52d48" stroke-width="1.3" stroke-dasharray="3 3"/>
<rect x="0.5" y="0.5" width="519" height="583" fill="none" stroke="#5a5a5a" stroke-width="1"/>
</svg>
</body></html>
